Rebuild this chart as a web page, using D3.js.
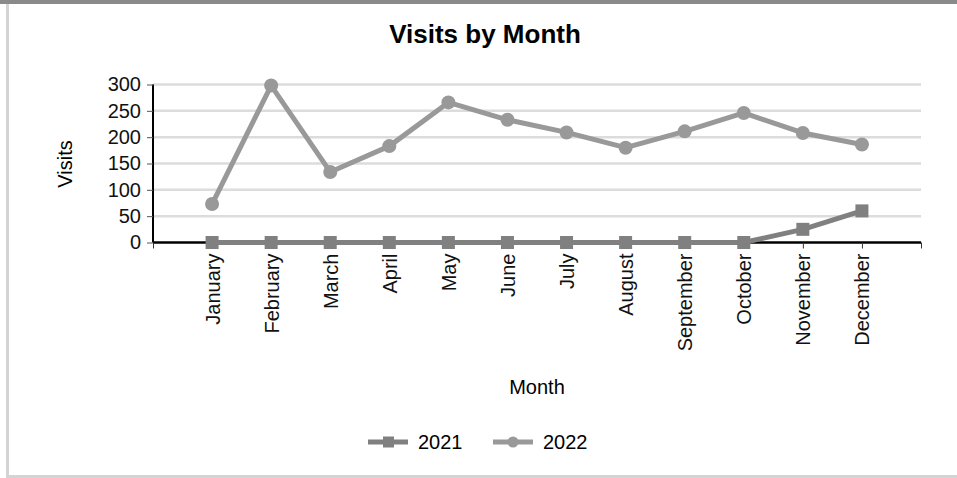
<!DOCTYPE html>
<html>
<head>
<meta charset="utf-8">
<script src="https://cdn.jsdelivr.net/npm/d3@7"></script>
<style>
  body { margin:0; background:#fff; font-family:"Liberation Sans", Arial, sans-serif; }
  .frame { position:absolute; left:0; top:0; width:957px; height:478px; box-sizing:border-box;
           border-top:4px solid #8a8a8a; }
  .card { position:absolute; left:6px; top:4px; width:951px; height:474px; box-sizing:border-box;
          border-left:3px solid #d4d4d4; border-bottom:3px solid #d4d4d4; }
  svg { position:absolute; left:0; top:0; }
</style>
</head>
<body>
<div class="frame"></div>
<div class="card"></div>
<div class="canvas"></div>
<script>
var months = ["January","February","March","April","May","June","July","August","September","October","November","December"];
var visits2021 = [0,0,0,0,0,0,0,0,0,0,25,60];
var visits2022 = [73,298,134,183,266,233,209,180,211,246,208,186];
var yTicks = [0,50,100,150,200,250,300];

var series = [
    {name:"2021", values:visits2021, color:"#808080", marker:"square"},
    {name:"2022", values:visits2022, color:"#999999", marker:"circle"}
];

var W = 957, H = 478;
var plot = {l:153, r:921, t:84.5, b:242.5};
var font = '"Liberation Sans", Arial, sans-serif';

var svg = d3.select('.canvas')
    .append('svg')
    .attr('width',W)
    .attr('height',H)
    .style('font-family',font);

// x: point scale with one empty slot at each end
var x = d3.scalePoint()
    .domain(["_s"].concat(months).concat(["_e"]))
    .range([plot.l, plot.r]);

var y = d3.scaleLinear()
    .domain([0,300])
    .range([plot.b, plot.t]);

// gridlines
svg.append('g')
    .selectAll('line')
    .data(yTicks.slice(1))
    .enter()
    .append('line')
    .attr('x1',plot.l).attr('x2',plot.r)
    .attr('y1',function(d){ return y(d); })
    .attr('y2',function(d){ return y(d); })
    .style('stroke','#dcdcdc')
    .style('stroke-width',2.5);

// y axis
var yAxis = svg.append('g')
    .attr('transform','translate('+plot.l+',0)')
    .call(d3.axisLeft(y).tickValues(yTicks).tickSize(6).tickPadding(6));
yAxis.select('.domain').style('stroke','#000').style('stroke-width',2).attr('d','M0,'+plot.t+'V'+plot.b);
yAxis.selectAll('.tick line').style('stroke','#555');
yAxis.selectAll('text').style('font-size','20px').style('font-family',font).style('fill','#111');

// x axis
var xAxis = svg.append('g')
    .attr('transform','translate(0,'+plot.b+')')
    .call(d3.axisBottom(x).tickSize(6).tickFormat(function(d){ return d.charAt(0)=="_" ? "" : d; }));
xAxis.select('.domain').style('stroke','#000').style('stroke-width',2.5).attr('d','M'+plot.l+',0H'+plot.r);
xAxis.selectAll('.tick line').style('stroke','#333');
xAxis.selectAll('text')
    .style('font-size','20px')
    .style('font-family',font)
    .style('fill','#111')
    .attr('transform','rotate(-90)')
    .attr('text-anchor','end')
    .attr('x',-11)
    .attr('y',0)
    .attr('dy','0.35em');

// lines and markers
var line = d3.line()
    .x(function(d,i){ return x(months[i]); })
    .y(function(d){ return y(d); });

series.forEach(function(s){
    var g = svg.append('g');
    g.append('path')
        .datum(s.values)
        .attr('d',line)
        .style('fill','none')
        .style('stroke',s.color)
        .style('stroke-width',5)
        .style('stroke-linejoin','round');
    if(s.marker=="square"){
        g.selectAll('rect')
            .data(s.values)
            .enter()
            .append('rect')
            .attr('x',function(d,i){ return x(months[i])-6.5; })
            .attr('y',function(d){ return y(d)-6.5; })
            .attr('width',13).attr('height',13)
            .style('fill',s.color);
    } else {
        g.selectAll('circle')
            .data(s.values)
            .enter()
            .append('circle')
            .attr('cx',function(d,i){ return x(months[i]); })
            .attr('cy',function(d){ return y(d); })
            .attr('r',7)
            .style('fill',s.color);
    }
});

// titles
svg.append('text')
    .attr('x',485).attr('y',43)
    .attr('text-anchor','middle')
    .style('font-size','26px').style('font-weight','bold')
    .text('Visits by Month');

svg.append('text')
    .attr('transform','translate(72,164) rotate(-90)')
    .attr('text-anchor','middle')
    .style('font-size','20px')
    .text('Visits');

svg.append('text')
    .attr('x',537).attr('y',394)
    .attr('text-anchor','middle')
    .style('font-size','20px')
    .text('Month');

// legend
var legendX = [368, 493];
series.forEach(function(s,i){
    var lg = svg.append('g').attr('transform','translate('+legendX[i]+',442)');
    lg.append('line').attr('x1',0).attr('x2',40).attr('y1',0).attr('y2',0)
        .style('stroke',s.color).style('stroke-width',5);
    if(s.marker=="square"){
        lg.append('rect').attr('x',15).attr('y',-5.5).attr('width',11).attr('height',11).style('fill',s.color);
    } else {
        lg.append('circle').attr('cx',20).attr('cy',0).attr('r',5.5).style('fill',s.color);
    }
    lg.append('text').attr('x',50).attr('y',0).attr('dy','0.35em')
        .style('font-size','20px').text(s.name);
});
</script>
</body>
</html>
